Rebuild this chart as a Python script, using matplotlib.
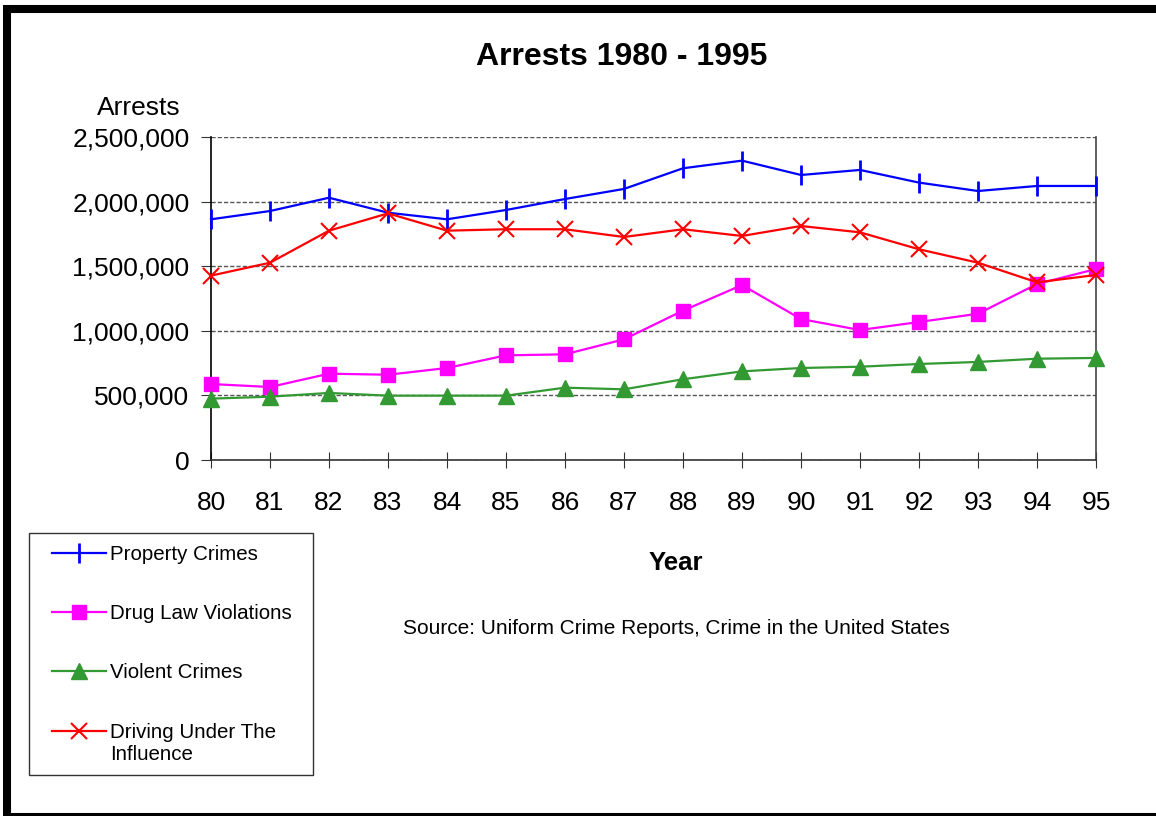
import numpy as np
import matplotlib
matplotlib.use("Agg")
import matplotlib.pyplot as plt
from matplotlib.patches import Rectangle
from matplotlib.ticker import FuncFormatter
from matplotlib.legend_handler import HandlerLine2D

plt.rcParams['font.family'] = ['Liberation Sans', 'DejaVu Sans']

years = list(range(80, 96))
property_crimes = [1863000, 1927000, 2030000, 1914000, 1863000, 1935000, 2020000, 2098000,
                   2258000, 2317000, 2206000, 2245000, 2147000, 2082000, 2121000, 2121000]
drug_law = [588000, 565000, 668000, 660000, 712000, 810000, 818000, 934000,
            1156000, 1354000, 1091000, 1006000, 1068000, 1132000, 1362000, 1478000]
violent_crimes = [475000, 490000, 519000, 498000, 498000, 498000, 560000, 547000,
                  625000, 686000, 712000, 722000, 743000, 759000, 784000, 790000]
dui = [1427000, 1527000, 1775000, 1909000, 1775000, 1786000, 1786000, 1726000,
       1786000, 1734000, 1811000, 1762000, 1631000, 1527000, 1375000, 1432000]
labels = ['Property Crimes', 'Drug Law Violations', 'Violent Crimes', 'Driving Under The\nInfluence']


class UpHandler(HandlerLine2D):
    # put the handle next to the first line of a two-line label
    def create_artists(self, legend, orig_handle, xdescent, ydescent, width, height, fontsize, trans):
        return super().create_artists(legend, orig_handle, xdescent, ydescent - 1.25 * fontsize,
                                      width, height, fontsize, trans)


W, H = 1156, 816
fig = plt.figure(figsize=(W / 100, H / 100), dpi=100)
ax = fig.add_axes([211 / W, 1 - 460 / H, (1096 - 211) / W, (460 - 137) / H])

l1, = ax.plot(years, property_crimes, color='#0000FF', lw=1.6, marker='|', ms=14, mew=2, clip_on=False, zorder=5)
l2, = ax.plot(years, drug_law, color='#FF00FF', lw=1.6, marker='s', ms=10, clip_on=False, zorder=4)
l3, = ax.plot(years, violent_crimes, color='#339933', lw=1.6, marker='^', ms=11, clip_on=False, zorder=4)
l4, = ax.plot(years, dui, color='#FF0000', lw=1.6, marker='x', ms=11, mew=1.5, clip_on=False, zorder=5)

ax.set_xlim(80, 95)
ax.set_ylim(0, 2500000)
ax.set_xticks(years)
ax.set_yticks(np.arange(0, 2500001, 500000))
ax.yaxis.set_major_formatter(FuncFormatter(lambda v, p: '{:,.0f}'.format(v)))
ax.tick_params(axis='y', direction='out', length=7, labelsize=19, pad=8.5, color='#333333')
ax.tick_params(axis='x', direction='inout', length=11, labelsize=19, pad=17, color='#333333')
ax.yaxis.grid(True, linestyle=(0, (3, 1.5)), color='#555555', lw=1)
ax.set_axisbelow(True)
ax.spines['top'].set_visible(False)
ax.spines['right'].set_color('#444444')
ax.spines['left'].set_color('black')
ax.spines['bottom'].set_color('#333333')
for s in ax.spines.values():
    s.set_linewidth(1.2)

fig.text(622 / W, 1 - 57 / H, 'Arrests 1980 - 1995', ha='center', va='center', fontsize=23, fontweight='bold')
fig.text(139 / W, 1 - 108 / H, 'Arrests', ha='center', va='center', fontsize=19)
fig.text(676 / W, 1 - 563 / H, 'Year', ha='center', va='center', fontsize=18.5, fontweight='bold')
fig.text(676 / W, 1 - 628 / H, 'Source: Uniform Crime Reports, Crime in the United States',
         ha='center', va='center', fontsize=15)

leg = fig.legend([l1, l2, l3, l4], labels,
                 loc='upper left', bbox_to_anchor=(42 / W, 1 - 535 / H), fontsize=14.8,
                 handlelength=2.6, handletextpad=0.2, labelspacing=1.95, borderpad=0,
                 frameon=False, handler_map={l4: UpHandler()})
for t in leg.get_texts():
    t.set_linespacing(1.25)
fig.add_artist(Rectangle((29 / W, 1 - 775 / H), (313 - 29) / W, (775 - 533) / H,
                         transform=fig.transFigure, fill=False, lw=1, edgecolor='#333333'))

# outer frame
fig.add_artist(Rectangle((7 / W, 1 - 817 / H), (1165 - 7) / W, (817 - 9) / H,
                         transform=fig.transFigure, fill=False, lw=5.8, edgecolor='black'))

plt.savefig('out.png', dpi=100)
plt.close()
